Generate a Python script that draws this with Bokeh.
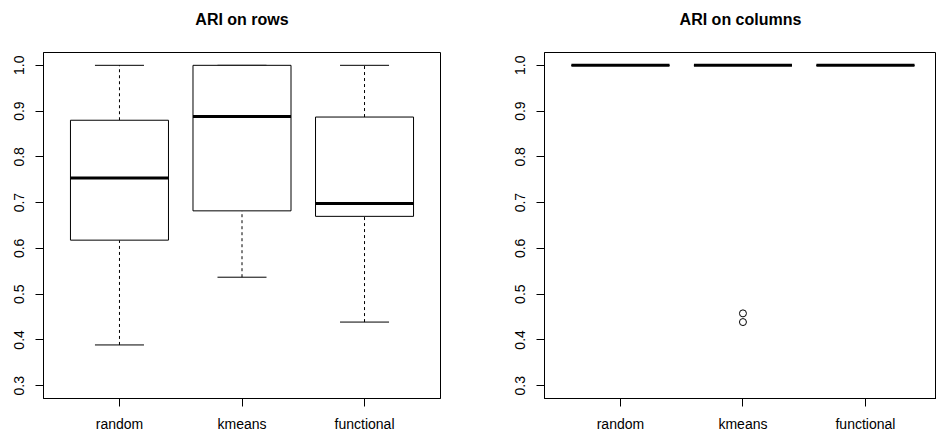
from bokeh.plotting import figure
from bokeh.layouts import row
from bokeh.models import FixedTicker, Range1d, PrintfTickFormatter, Title
from bokeh.embed import file_html
from bokeh.resources import INLINE

categories = ["random", "kmeans", "functional"]
positions = [1, 2, 3]
y_ticks = [0.3, 0.4, 0.5, 0.6, 0.7, 0.8, 0.9, 1.0]

# ARI on rows
rows_lower = [0.389, 0.537, 0.439]
rows_q1 = [0.618, 0.682, 0.670]
rows_median = [0.754, 0.888, 0.698]
rows_q3 = [0.880, 1.000, 0.887]
rows_upper = [1.000, 1.000, 1.000]
rows_out_group = []
rows_out_values = []

# ARI on columns
cols_lower = [1.000, 1.000, 1.000]
cols_q1 = [1.000, 1.000, 1.000]
cols_median = [1.000, 1.000, 1.000]
cols_q3 = [1.000, 1.000, 1.000]
cols_upper = [1.000, 1.000, 1.000]
cols_out_group = ["kmeans", "kmeans"]
cols_out_values = [0.458, 0.439]

FONT = "Liberation Sans"


def make_panel(title, lower, q1, med, q3, upper, out_group, out_values,
               width, mb_left, mb_right, x_end):
    p = figure(width=width, height=434, output_backend="svg", toolbar_location=None,
               title=title,
               x_range=Range1d(0.38, x_end), y_range=Range1d(0.272, 1.028),
               min_border_left=mb_left, min_border_right=mb_right,
               min_border_top=52, min_border_bottom=35,
               background_fill_color="white", border_fill_color="white")
    # spacer between the frame and the title
    p.add_layout(Title(text=" ", text_font_size="1px", standoff=14), "above")
    p.title.text_font = FONT
    p.title.text_font_size = "16px"
    p.title.text_font_style = "bold"
    p.title.text_color = "black"
    p.title.align = "center"
    p.title.standoff = 15
    p.outline_line_color = "black"
    p.outline_line_width = 1
    p.outline_line_alpha = 1
    p.grid.visible = False

    hw = 0.4
    cw = 0.2
    # whiskers (dashed)
    p.segment(x0=positions, x1=positions, y0=q3, y1=upper, line_color="black",
              line_width=1, line_dash="3 3")
    p.segment(x0=positions, x1=positions, y0=lower, y1=q1, line_color="black",
              line_width=1, line_dash="3 3")
    # caps
    p.segment(x0=[x - cw for x in positions], x1=[x + cw for x in positions],
              y0=upper, y1=upper, line_color="black", line_width=1)
    p.segment(x0=[x - cw for x in positions], x1=[x + cw for x in positions],
              y0=lower, y1=lower, line_color="black", line_width=1)
    # boxes
    p.quad(left=[x - hw for x in positions], right=[x + hw for x in positions],
           bottom=q1, top=q3, fill_color="white", line_color="black", line_width=1)
    # medians
    p.segment(x0=[x - hw for x in positions], x1=[x + hw for x in positions],
              y0=med, y1=med, line_color="black", line_width=3)
    # outliers
    if out_values:
        ox = [positions[categories.index(g)] for g in out_group]
        p.scatter(x=ox, y=out_values, marker="circle", size=7, fill_color=None,
                  line_color="black", line_width=1)

    xa = p.xaxis[0]
    xa.ticker = FixedTicker(ticks=positions)
    xa.major_label_overrides = {pos: c for pos, c in zip(positions, categories)}
    ya = p.yaxis[0]
    ya.ticker = FixedTicker(ticks=y_ticks)
    ya.formatter = PrintfTickFormatter(format="%.1f")
    ya.major_label_orientation = "vertical"
    for ax in (xa, ya):
        ax.major_label_text_font = FONT
        ax.major_label_text_font_size = "14px"
        ax.major_label_text_color = "black"
        ax.major_tick_in = 0
        ax.major_tick_out = 8
        ax.major_tick_line_color = "black"
        ax.minor_tick_line_color = None
        ax.axis_line_color = "black"
    xa.major_label_standoff = 9
    ya.major_label_standoff = 11
    return p


p1 = make_panel("ARI on rows", rows_lower, rows_q1, rows_median, rows_q3, rows_upper,
                rows_out_group, rows_out_values, 468, 43, 28, 3.62)
p2 = make_panel("ARI on columns", cols_lower, cols_q1, cols_median, cols_q3, cols_upper,
                cols_out_group, cols_out_values, 468, 76, 0, 3.58)

layout = row(p1, p2)
open("out.html", "w").write(file_html(layout, INLINE))
